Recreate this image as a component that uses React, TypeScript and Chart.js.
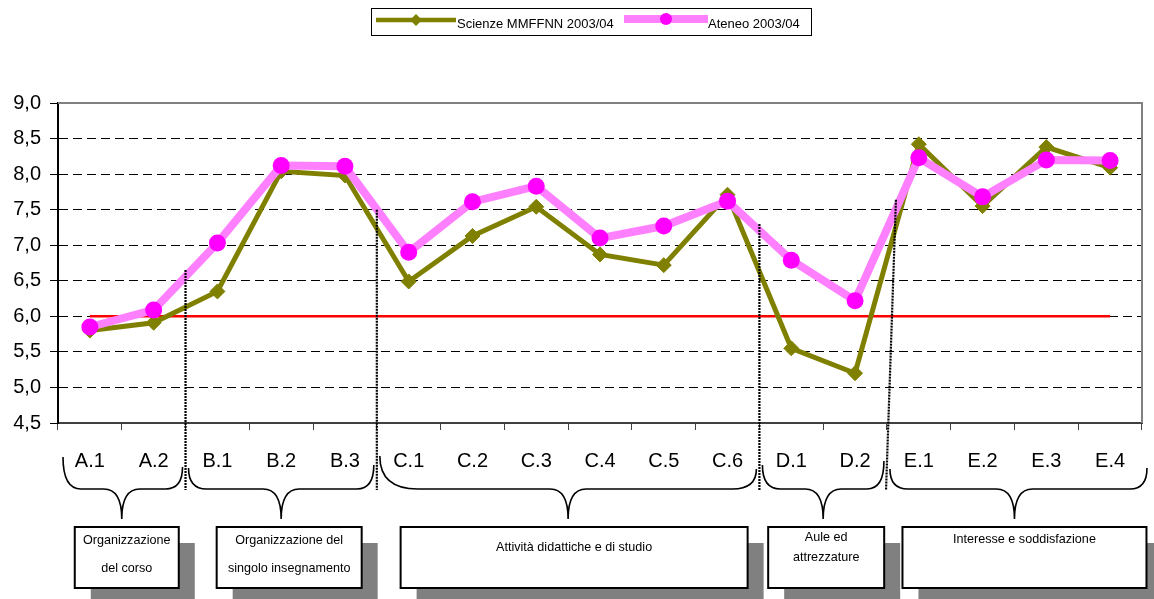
import React, { useEffect, useRef } from 'react';
import { Chart, registerables } from 'chart.js';

Chart.register(...registerables);

// ---------- data ----------
const categories = ['A.1', 'A.2', 'B.1', 'B.2', 'B.3', 'C.1', 'C.2', 'C.3', 'C.4', 'C.5', 'C.6', 'D.1', 'D.2', 'E.1', 'E.2', 'E.3', 'E.4'];
const scienzeValues = [5.80, 5.91, 6.35, 8.04, 7.98, 6.49, 7.13, 7.54, 6.87, 6.72, 7.71, 5.55, 5.20, 8.42, 7.55, 8.38, 8.09];
const ateneoValues = [5.85, 6.09, 7.03, 8.12, 8.11, 6.90, 7.61, 7.83, 7.10, 7.27, 7.62, 6.79, 6.22, 8.23, 7.68, 8.20, 8.19];
const sogliaValues = [6, 6, 6, 6, 6, 6, 6, 6, 6, 6, 6, 6, 6, 6, 6, 6, 6];
const seriesLabels = ['Scienze MMFFNN 2003/04', 'Ateneo 2003/04'];
const yMin = 4.5;
const yMax = 9.0;
const yStep = 0.5;

// groups of categories (index of first / last category) and their captions
const groupFirst = [0, 2, 5, 11, 13];
const groupLast = [1, 4, 10, 12, 16];
const groupTexts = [
  ['Organizzazione', 'del corso'],
  ['Organizzazione del', 'singolo insegnamento'],
  ['Attività didattiche e di studio'],
  ['Aule ed', 'attrezzature'],
  ['Interesse e soddisfazione'],
];
// value at which each dotted separator between groups starts
const separatorTop = [6.65, 7.5, 7.3, 7.64];

// ---------- styles ----------
const FONT = '"Liberation Sans", Arial, Helvetica, sans-serif';
const GREEN = '#808000';
const PINK_LINE = '#FF80FF';
const PINK_POINT = '#FF00FF';
const separatorSlant = [0, 0, 0, 9];
const boxWidths = [104, 145, 347, 116, 244];
const boxShift = [5, 8, 6, 3, 10];
const boxLineY = [[13, 41], [13, 41], [20], [10, 30], [12]];
const braceEndL = [457, 468, 456, 465, 469];
const braceEndR = [467, 465, 469, 461, 468];

function drawDiamond(ctx: CanvasRenderingContext2D, x: number, y: number, r: number, color: string) {
  ctx.beginPath();
  ctx.moveTo(x, y - r);
  ctx.lineTo(x + r, y);
  ctx.lineTo(x, y + r);
  ctx.lineTo(x - r, y);
  ctx.closePath();
  ctx.fillStyle = color;
  ctx.fill();
}

const decorPlugin = {
  id: 'decor',
  afterDraw(chart: any) {
    const { ctx, chartArea: a, scales } = chart;
    const xs = scales.x;
    const ys = scales.y;
    const step = xs.getPixelForValue(1) - xs.getPixelForValue(0);
    const bnd = (i: number) => xs.getPixelForValue(i) - step / 2;

    ctx.save();
    // plot frame (top / right)
    ctx.strokeStyle = '#808080';
    ctx.lineWidth = 2;
    ctx.beginPath();
    ctx.moveTo(a.left, a.top);
    ctx.lineTo(a.right, a.top);
    ctx.lineTo(a.right, a.bottom);
    ctx.stroke();

    const midY = a.bottom + 66;
    const tipY = a.bottom + 96;

    // dotted separators
    ctx.strokeStyle = '#000';
    ctx.lineWidth = 2.2;
    ctx.setLineDash([2, 1]);
    for (let k = 0; k < separatorTop.length; k++) {
      const xb = bnd(groupFirst[k + 1]);
      ctx.beginPath();
      ctx.moveTo(xb + separatorSlant[k], ys.getPixelForValue(separatorTop[k]));
      ctx.lineTo(xb - separatorSlant[k] * 0.1, midY + 1);
      ctx.stroke();
    }
    ctx.setLineDash([]);

    // braces
    ctx.lineWidth = 1.6;
    ctx.strokeStyle = '#000';
    const n = groupFirst.length;
    for (let g = 0; g < n; g++) {
      const b0 = bnd(groupFirst[g]);
      const b1 = bnd(groupLast[g] + 1);
      const xL = g === 0 ? a.left + 5 : b0 + 3;
      const xR = g === n - 1 ? a.right + 5 : b1 - 3;
      const tip = (b0 + b1) / 2;
      const rL = g === 2 ? 38 : 18;
      const rR = g === 2 ? 24 : 17;
      const s = 18;
      ctx.beginPath();
      ctx.moveTo(xL, braceEndL[g]);
      ctx.quadraticCurveTo(xL, midY, xL + rL, midY);
      ctx.lineTo(tip - s, midY);
      ctx.quadraticCurveTo(tip, midY, tip, tipY);
      ctx.quadraticCurveTo(tip, midY, tip + s, midY);
      ctx.lineTo(xR - rR, midY);
      ctx.quadraticCurveTo(xR, midY, xR, braceEndR[g]);
      ctx.stroke();

      // caption box with shadow
      const bw = boxWidths[g];
      const cx = tip + boxShift[g];
      const bx = cx - bw / 2;
      const by = a.bottom + 104;
      const bh = 61;
      ctx.fillStyle = '#808080';
      ctx.fillRect(bx + 16, by + 16, bw, bh + 20);
      ctx.fillStyle = '#fff';
      ctx.fillRect(bx, by, bw, bh);
      ctx.lineWidth = 2;
      ctx.strokeRect(bx, by, bw, bh);
      ctx.lineWidth = 1.6;
      ctx.fillStyle = '#000';
      ctx.font = `12.6px ${FONT}`;
      ctx.textAlign = 'center';
      ctx.textBaseline = 'middle';
      groupTexts[g].forEach((t, i) => {
        ctx.fillText(t, cx, by + boxLineY[g][i] + 1);
      });
    }

    // legend
    const lx = 371;
    const ly = 8;
    ctx.fillStyle = '#fff';
    ctx.fillRect(lx, ly, 440, 27);
    ctx.strokeStyle = '#000';
    ctx.lineWidth = 1;
    ctx.strokeRect(lx + 0.5, ly + 0.5, 440, 27);
    const ds = chart.data.datasets;
    // item 1
    ctx.strokeStyle = ds[0].borderColor;
    ctx.lineWidth = 4.5;
    ctx.beginPath();
    ctx.moveTo(376, 20);
    ctx.lineTo(456, 20);
    ctx.stroke();
    drawDiamond(ctx, 416, 20, 6, ds[0].pointBackgroundColor);
    ctx.fillStyle = '#000';
    ctx.font = `13px ${FONT}`;
    ctx.textAlign = 'left';
    ctx.textBaseline = 'alphabetic';
    ctx.fillText(ds[0].label, 457, 27.5);
    // item 2
    ctx.strokeStyle = ds[1].borderColor;
    ctx.lineWidth = 8;
    ctx.beginPath();
    ctx.moveTo(624, 19);
    ctx.lineTo(708, 19);
    ctx.stroke();
    ctx.fillStyle = ds[1].pointBackgroundColor;
    ctx.beginPath();
    ctx.arc(666, 19, 6, 0, Math.PI * 2);
    ctx.fill();
    ctx.fillStyle = '#000';
    ctx.fillText(ds[1].label, 708, 27.5);

    ctx.restore();
  },
};

export default function App() {
  const canvasRef = useRef<HTMLCanvasElement | null>(null);

  useEffect(() => {
    const canvas = canvasRef.current;
    if (!canvas) return;
    const chart = new Chart(canvas, {
      type: 'line',
      data: {
        labels: categories,
        datasets: [
          {
            label: seriesLabels[0],
            data: scienzeValues,
            borderColor: GREEN,
            backgroundColor: GREEN,
            borderWidth: 5,
            pointStyle: 'rectRot',
            pointRadius: 7.5,
            pointBackgroundColor: GREEN,
            pointBorderColor: GREEN,
            pointBorderWidth: 1,
            tension: 0,
            order: 2,
          },
          {
            label: seriesLabels[1],
            data: ateneoValues,
            borderColor: PINK_LINE,
            backgroundColor: PINK_POINT,
            borderWidth: 8,
            pointStyle: 'circle',
            pointRadius: 8.5,
            pointBackgroundColor: PINK_POINT,
            pointBorderColor: PINK_POINT,
            pointBorderWidth: 0,
            tension: 0,
            order: 1,
          },
          {
            label: 'soglia',
            data: sogliaValues,
            borderColor: '#FF0000',
            borderWidth: 2.5,
            pointRadius: 0,
            tension: 0,
            order: 3,
          },
        ],
      },
      options: {
        responsive: false,
        animation: false,
        events: [],
        layout: { padding: { top: 103, right: 12, left: 0, bottom: 0 } },
        plugins: {
          legend: { display: false },
          tooltip: { enabled: false },
          title: { display: false },
        },
        scales: {
          x: {
            type: 'category',
            offset: true,
            grid: {
              offset: true,
              drawOnChartArea: false,
              drawTicks: true,
              tickLength: 7,
              color: '#404040',
              tickColor: '#404040',
            },
            border: { display: true, color: '#404040', width: 2 },
            ticks: {
              color: '#000',
              font: { family: FONT, size: 20 },
              padding: 19,
              maxRotation: 0,
              autoSkip: false,
            },
            afterFit: (scale: any) => {
              scale.height = 176;
            },
          },
          y: {
            min: yMin,
            max: yMax,
            grid: {
              drawTicks: true,
              tickLength: 8,
              tickColor: '#000',
              lineWidth: 1,
              color: (c: any) => {
                const v = c.tick ? c.tick.value : null;
                if (v === null || Math.abs(v - yMin) < 1e-6 || Math.abs(v - yMax) < 1e-6) return 'rgba(0,0,0,0)';
                return '#000';
              },
            },
            border: { display: true, color: '#000', width: 2, dash: [9, 5] },
            ticks: {
              stepSize: yStep,
              color: '#000',
              padding: 9,
              font: { family: FONT, size: 20 },
              callback: (v: any) => Number(v).toFixed(1).replace('.', ','),
            },
            afterFit: (scale: any) => {
              scale.width = 58;
            },
          },
        },
      },
      plugins: [decorPlugin],
    });
    return () => chart.destroy();
  }, []);

  return (
    <div style={{ position: 'fixed', left: 0, top: 0, width: 1154, height: 599, background: '#fff' }}>
      <canvas ref={canvasRef} width={1154} height={599} style={{ width: 1154, height: 599, display: 'block' }} />
    </div>
  );
}
